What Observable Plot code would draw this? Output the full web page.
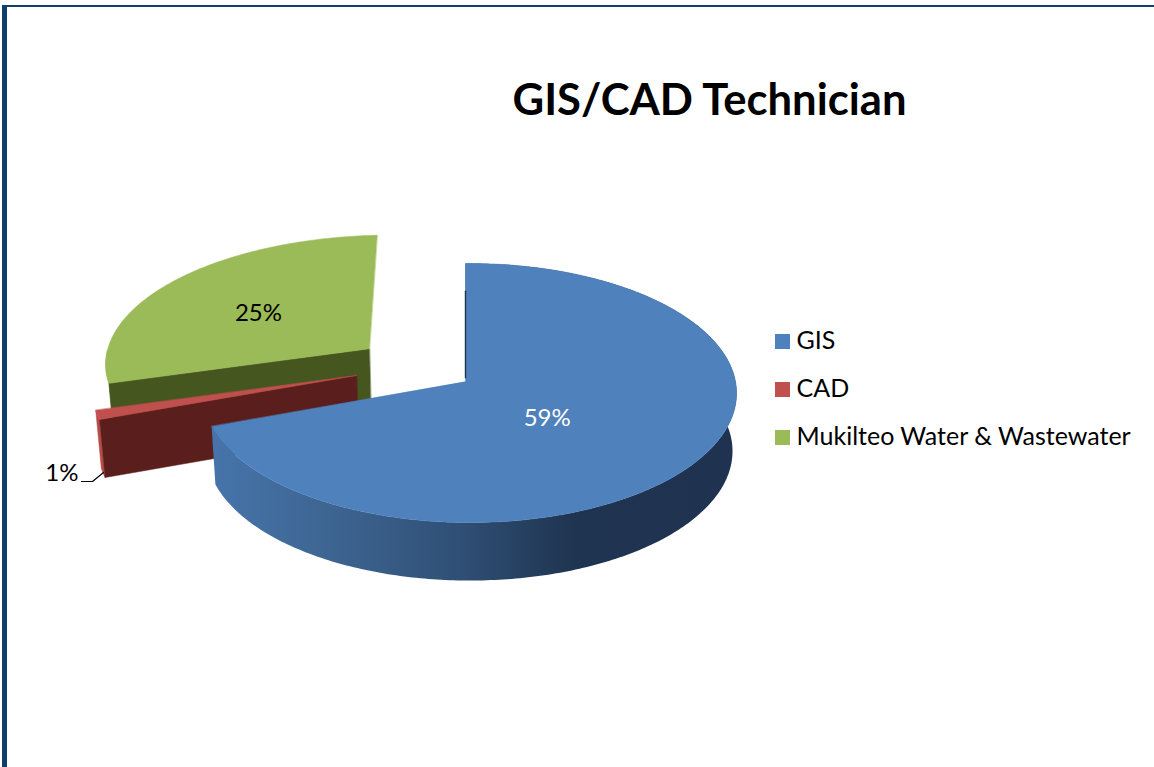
<!DOCTYPE html>
<html>
<head>
<meta charset="utf-8">
<script src="https://cdn.jsdelivr.net/npm/d3@7"></script>
<script src="https://cdn.jsdelivr.net/npm/@observablehq/plot@0.6"></script>
<style>
html,body{margin:0;padding:0;background:#fff;overflow:hidden}
#frame{position:absolute;left:2px;top:5px;right:0;bottom:0;border-left:5px solid #0f3f6f;border-top:2.5px solid #0f3f6f;pointer-events:none}
#chart{position:absolute;left:0;top:0}
</style>
</head>
<body>
<div id="chart"></div>
<div id="frame"></div>
<script>
const categories = ["GIS", "CAD", "Mukilteo Water & Wastewater"];
const values = [59, 1, 25];
const valueLabels = ["59%", "1%", "25%"];
const titleText = "GIS/CAD Technician";

const topColors = ["#4f81bd", "#c0504d", "#9bbb59"];
const cutColors = ["#1f3450", "#5a1f1c", "#46561f"];
const rimColors = [null, "#b84a47", "#8fae51"];
const labelColors = ["#fff", "#000", "#000"];

// 3D view of the disc: u to the right, v into the page
const view = {cx: 465, cy: 381, A: 270, B: 128.5, k: 0.0888, depth: 58, shrink: 0.985};
// per slice: explosion offset in the disc plane, radius, horizontal stretch and lean
const slicePlace = [
  {ou: 0, ov: 0, r: 1, w: 0.985, m: -0.015, lu: 0.295, lv: -0.283},
  {ou: -0.405, ov: 0.047, r: 0.975, w: 1, m: 0, lu: -1.406, lv: -0.67},
  {ou: -0.355, ov: 0.264, r: 1.02, w: 1.04, m: -0.04, lu: -0.805, lv: 0.56}
];
const wallStops = [[212, "#4674ab"], [330, "#3d6591"], [460, "#2f4f75"], [575, "#1f3450"], [736, "#1f3350"]];

const total = d3.sum(values);
let running = 0;
const slices = values.map((v, i) => {
  const a0 = running / total * 2 * Math.PI;
  running += v;
  return {i, a0, a1: running / total * 2 * Math.PI, place: slicePlace[i]};
});

function plane(u, v, p) {
  const d = 1 + view.k * v + p.m * u;
  return [view.cx + view.A * p.w * u / d, view.cy - view.B * v / d];
}
function onTop(s, a, rr = 1) {
  const p = s.place;
  return plane(p.ou + p.r * rr * Math.sin(a), p.ov + p.r * rr * Math.cos(a), p);
}
function drop([x, y]) {
  return [view.cx + (x - view.cx) * view.shrink, y + view.depth];
}
function arc(s, a0 = s.a0, a1 = s.a1, n = 120) {
  return d3.range(n + 1).map(j => onTop(s, a0 + (a1 - a0) * j / n));
}
const apex = s => plane(s.place.ou, s.place.ov, s.place);

let pid = 0;
function poly(store, pts, c) {
  const id = pid++;
  pts.forEach(([x, y]) => store.push({x, y, id, c}));
}

// green, then red (back to front), then the blue wall and blue top
const backPolys = [];
for (const i of [2, 1]) {
  const s = slices[i];
  const outerA = s.a0;
  const outerB = i === 1 ? s.a1 : Math.min(s.a1, 1.5 * Math.PI);
  const rim = arc(s, outerA, outerB, 20);
  poly(backPolys, [...rim, ...rim.map(drop).reverse()], rimColors[i]);
  const c = onTop(s, s.a0), o = apex(s);
  poly(backPolys, [o, c, drop(c), drop(o)], cutColors[i]);
  poly(backPolys, [o, ...arc(s)], topColors[i]);
}
const blue = slices[0];
const wallRim = arc(blue, blue.a0, blue.a1, 300);
const wallPolys = [];
poly(wallPolys, [...wallRim, ...wallRim.map(drop).reverse()], "wall");
const bluePolys = [];
poly(bluePolys, [apex(blue), ...arc(blue, blue.a0, blue.a1, 300)], topColors[0]);

const seam = [onTop(blue, 0, 0.75), onTop(blue, 0, 0.03)].map(([x, y]) => ({x, y}));
const leader = [{x: 81, y: 481}, {x: 92, y: 481}, {x: 103, y: 472}];

const labels = slices.map(s => {
  const [x, y] = plane(s.place.lu, s.place.lv, {m: 0, w: 1});
  return {x, y, text: valueLabels[s.i], color: labelColors[s.i]};
});
const legend = categories.map((name, i) => ({name, i, color: topColors[i]}));
const legendX = 775, legendY = 334, legendStep = 48, legendBox = 15;

function wallGradient() {
  const defs = d3.create("svg:defs");
  const g = defs.append("linearGradient").attr("id", "wallShade")
    .attr("gradientUnits", "userSpaceOnUse")
    .attr("x1", wallStops[0][0]).attr("x2", wallStops[wallStops.length - 1][0])
    .attr("y1", 0).attr("y2", 0);
  const span = wallStops[wallStops.length - 1][0] - wallStops[0][0];
  for (const [x, c] of wallStops) {
    g.append("stop").attr("offset", (x - wallStops[0][0]) / span).attr("stop-color", c);
  }
  return defs.node();
}

const chart = Plot.plot({
  width: 1154, height: 767,
  margin: 0,
  style: {background: "transparent", fontFamily: "Lato, sans-serif", overflow: "visible"},
  x: {domain: [0, 1154], range: [0, 1154], axis: null},
  y: {domain: [0, 767], range: [0, 767], axis: null},
  color: {type: "identity"},
  marks: [
    wallGradient,
    Plot.line(backPolys, {x: "x", y: "y", z: "id", fill: "c", stroke: "c", strokeWidth: 0.5, curve: "linear-closed"}),
    Plot.line(wallPolys, {x: "x", y: "y", z: "id", fill: "url(#wallShade)", stroke: "none", curve: "linear-closed"}),
    Plot.line(bluePolys, {x: "x", y: "y", z: "id", fill: "c", stroke: "c", strokeWidth: 0.5, curve: "linear-closed"}),
    Plot.line(seam, {x: "x", y: "y", stroke: "#1f3450", strokeWidth: 1.4}),
    Plot.line(leader, {x: "x", y: "y", stroke: "#000", strokeWidth: 1.2}),
    Plot.text(labels, {x: "x", y: "y", text: "text", fill: "color", fontSize: 24, textAnchor: "middle"}),
    Plot.text([titleText], {x: [709], y: [101], text: d => d, fontSize: 43.6, fontWeight: 700, fill: "#000", textAnchor: "middle"}),
    Plot.rect(legend, {x1: () => legendX, x2: () => legendX + legendBox,
      y1: d => legendY + d.i * legendStep, y2: d => legendY + d.i * legendStep + legendBox, fill: "color"}),
    Plot.text(legend, {x: () => legendX + 21, y: d => legendY + d.i * legendStep + legendBox / 2 - 1,
      text: "name", fontSize: 25, textAnchor: "start", fill: "#000"})
  ]
});
document.getElementById("chart").appendChild(chart);
</script>
</body>
</html>
